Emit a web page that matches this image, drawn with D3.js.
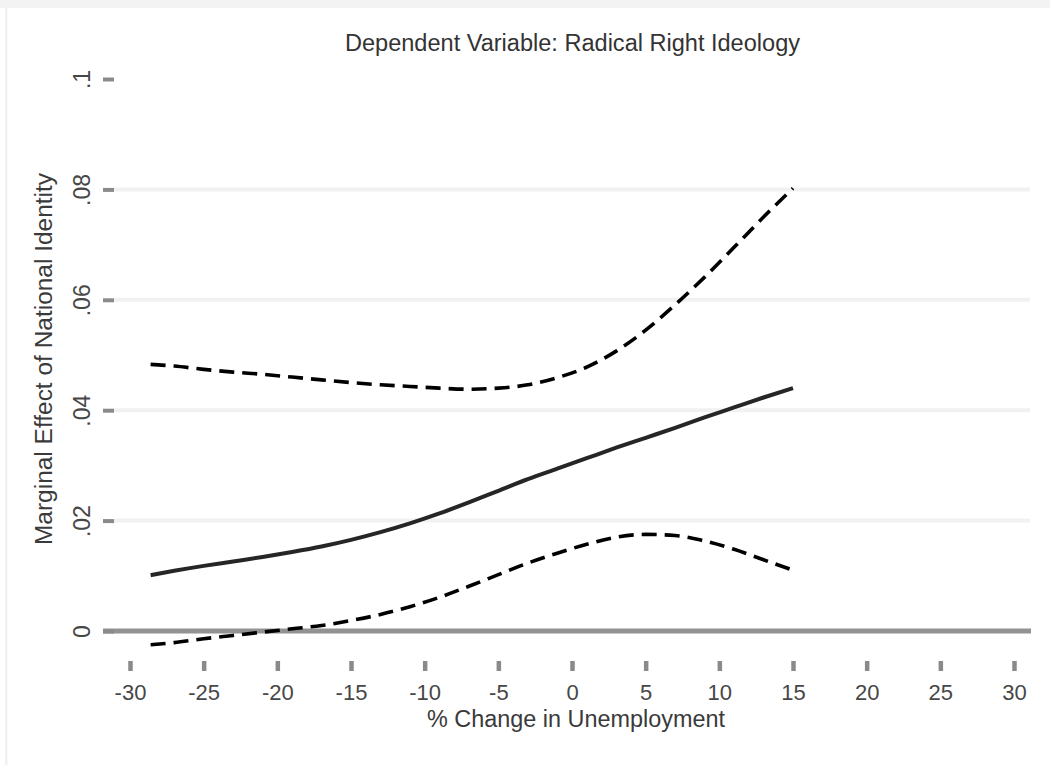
<!DOCTYPE html>
<html>
<head>
<meta charset="utf-8">
<script src="https://cdn.jsdelivr.net/npm/d3@7"></script>
<style>
  html, body { margin: 0; padding: 0; background: #ffffff; }
  svg { display: block; }
  text { font-family: "Liberation Sans", Arial, sans-serif; }
</style>
</head>
<body>
<script>
// ---- data ----
const titleText = "Dependent Variable: Radical Right Ideology";
const xLabelText = "% Change in Unemployment";
const yLabelText = "Marginal Effect of National Identity";

const xTicks = [-30, -25, -20, -15, -10, -5, 0, 5, 10, 15, 20, 25, 30];
const xTickLabels = ["-30", "-25", "-20", "-15", "-10", "-5", "0", "5", "10", "15", "20", "25", "30"];
const yTicks = [0, 0.02, 0.04, 0.06, 0.08, 0.1];
const yTickLabels = ["0", ".02", ".04", ".06", ".08", ".1"];
const gridTicks = [0.02, 0.04, 0.06, 0.08];

const unemp = [-28.6, -27, -25, -23, -21, -19, -17, -15, -13, -11, -9, -7, -5, -3, -1, 1, 3, 5, 7, 9, 11, 13, 15];
const effect = [0.0101, 0.0109, 0.0118, 0.0126, 0.0134, 0.0143, 0.0153, 0.0165, 0.0179, 0.0195, 0.0213, 0.0233,
                0.0254, 0.0275, 0.0294, 0.0313, 0.0332, 0.0350, 0.0368, 0.0387, 0.0405, 0.0423, 0.0440];
const upper = [0.0483, 0.0480, 0.0474, 0.0469, 0.0465, 0.0460, 0.0455, 0.0450, 0.0446, 0.0443, 0.0440, 0.0438,
               0.0440, 0.0446, 0.0459, 0.0478, 0.0507, 0.0545, 0.0591, 0.0641, 0.0695, 0.0750, 0.0802];
const lower = [-0.0025, -0.0021, -0.0014, -0.0008, -0.0002, 0.0004, 0.0010, 0.0019, 0.0030, 0.0044, 0.0061, 0.0081,
               0.0102, 0.0123, 0.0141, 0.0157, 0.0170, 0.0175, 0.0173, 0.0163, 0.0148, 0.0129, 0.0110];

// ---- drawing ----
const W = 1050, H = 765;
const svg = d3.select("body").append("svg").attr("width", W).attr("height", H);

// light frame (top band + left line)
svg.append("rect").attr("x", 0).attr("y", 0).attr("width", W).attr("height", 8).attr("fill", "#f3f3f3");
svg.append("rect").attr("x", 5).attr("y", 8).attr("width", 2.5).attr("height", H - 8).attr("fill", "#f1f1f1");

const x = d3.scaleLinear().domain([-30, 30]).range([130, 1014]);
const y = d3.scaleLinear().domain([0, 0.1]).range([631, 79]);

// gridlines
svg.append("g").selectAll("line").data(gridTicks).join("line")
  .attr("x1", 114).attr("x2", 1030)
  .attr("y1", d => y(d)).attr("y2", d => y(d))
  .attr("stroke", "#f1f1f1").attr("stroke-width", 4);

// zero reference line
svg.append("line")
  .attr("x1", 103).attr("x2", 1031)
  .attr("y1", y(0)).attr("y2", y(0))
  .attr("stroke", "#929292").attr("stroke-width", 5);

// y axis (ticks + labels)
const yAxis = d3.axisLeft(y).tickValues(yTicks)
  .tickFormat((d, i) => yTickLabels[i]).tickSize(11).tickPadding(0);
const gy = svg.append("g").attr("transform", "translate(114,0)").call(yAxis);
gy.select(".domain").remove();
gy.selectAll(".tick line").attr("stroke", "#8a8a8a").attr("stroke-width", 4);
gy.selectAll(".tick text")
  .attr("x", null).attr("dy", null)
  .attr("text-anchor", "middle")
  .attr("transform", "translate(-24,0) rotate(-90)")
  .attr("fill", "#474747")
  .style("font-size", "23px");

// x axis (ticks + labels)
const xAxis = d3.axisBottom(x).tickValues(xTicks)
  .tickFormat((d, i) => xTickLabels[i]).tickSize(10).tickPadding(0);
const gx = svg.append("g").attr("transform", "translate(0,661)").call(xAxis);
gx.select(".domain").remove();
gx.selectAll(".tick line").attr("stroke", "#8a8a8a").attr("stroke-width", 4.5);
gx.selectAll(".tick text")
  .attr("y", 39).attr("dy", null)
  .attr("fill", "#474747")
  .style("font-size", "22px");

// lines
const pts = arr => unemp.map((u, i) => [u, arr[i]]);
const lineGen = d3.line().x(d => x(d[0])).y(d => y(d[1])).curve(d3.curveMonotoneX);

svg.append("path").datum(pts(upper)).attr("d", lineGen)
  .attr("fill", "none").attr("stroke", "#000").attr("stroke-width", 3.6)
  .attr("stroke-dasharray", "15,8");
svg.append("path").datum(pts(lower)).attr("d", lineGen)
  .attr("fill", "none").attr("stroke", "#000").attr("stroke-width", 3.6)
  .attr("stroke-dasharray", "15,8");
svg.append("path").datum(pts(effect)).attr("d", lineGen)
  .attr("fill", "none").attr("stroke", "#262626").attr("stroke-width", 4);

// title
svg.append("text").attr("x", 572.5).attr("y", 51)
  .attr("text-anchor", "middle").attr("fill", "#333")
  .style("font-size", "23px")
  .attr("textLength", 455).attr("lengthAdjust", "spacingAndGlyphs")
  .text(titleText);

// x label
svg.append("text").attr("x", 576).attr("y", 727)
  .attr("text-anchor", "middle").attr("fill", "#3a3a3a")
  .style("font-size", "23px")
  .attr("textLength", 298).attr("lengthAdjust", "spacingAndGlyphs")
  .text(xLabelText);

// y label
svg.append("text")
  .attr("transform", "translate(52,359) rotate(-90)")
  .attr("text-anchor", "middle").attr("fill", "#3a3a3a")
  .style("font-size", "23px")
  .attr("textLength", 372).attr("lengthAdjust", "spacingAndGlyphs")
  .text(yLabelText);
</script>
</body>
</html>
